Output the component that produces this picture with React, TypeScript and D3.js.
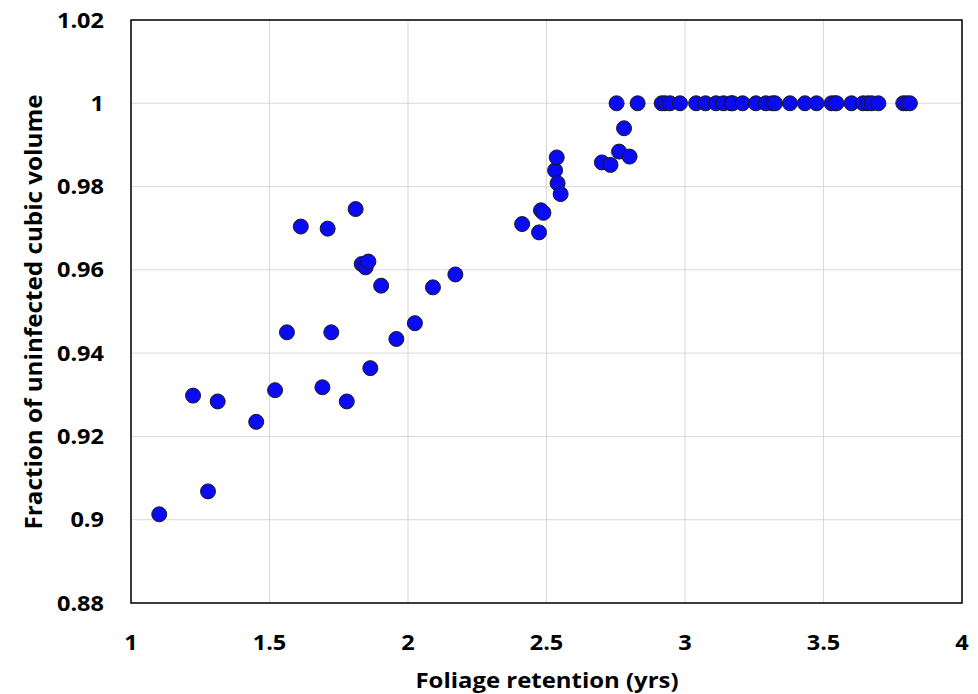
import React from "react";
import * as d3 from "d3";

const xValues: number[] = [
  1.102, 1.224, 1.278, 1.313, 1.452, 1.520, 1.563, 1.613, 1.691, 1.710, 1.723, 1.779,
  1.811, 1.833, 1.847, 1.857, 1.864, 1.903, 1.958, 2.025, 2.090, 2.171,
  2.412, 2.473, 2.480, 2.489, 2.531, 2.537, 2.540, 2.551, 2.700, 2.731, 2.762, 2.780, 2.800,
  2.753, 2.829, 2.916, 2.928, 2.946, 2.982, 3.040, 3.074, 3.112, 3.139, 3.166, 3.172, 3.208,
  3.256, 3.292, 3.316, 3.325, 3.379, 3.433, 3.475, 3.529, 3.541, 3.547, 3.601, 3.643, 3.661,
  3.674, 3.698, 3.788, 3.800, 3.812,
];
const yValues: number[] = [
  0.9013, 0.9298, 0.9068, 0.9284, 0.9235, 0.9311, 0.945, 0.9704, 0.9318, 0.9699, 0.945, 0.9284,
  0.9746, 0.9614, 0.9606, 0.962, 0.9364, 0.9562, 0.9434, 0.9472, 0.9558, 0.9589,
  0.971, 0.969, 0.9743, 0.9737, 0.9839, 0.987, 0.9808, 0.9782, 0.9858, 0.9852, 0.9884, 0.994, 0.9872,
  1, 1, 1, 1, 1, 1, 1, 1, 1, 1, 1, 1, 1,
  1, 1, 1, 1, 1, 1, 1, 1, 1, 1, 1, 1, 1,
  1, 1, 1, 1, 1,
];
const xTicks: number[] = [1, 1.5, 2, 2.5, 3, 3.5, 4];
const yTicks: number[] = [0.88, 0.9, 0.92, 0.94, 0.96, 0.98, 1, 1.02];
const xTitle = "Foliage retention (yrs)";
const yTitle = "Fraction of uninfected cubic volume";

const W = 978;
const H = 694;
const left = 131, right = 962, top = 20, bottom = 603;
const FONT = "'Open Sans', Lato, sans-serif";

export default function App() {
  const x = d3.scaleLinear().domain([1, 4]).range([left, right]);
  const y = d3.scaleLinear().domain([0.88, 1.02]).range([bottom, top]);
  const fmt = (v: number) => String(+v.toFixed(2));
  return (
    <svg width={W} height={H} style={{ position: "absolute", left: 0, top: 0, background: "#fff" }}>
      {xTicks.map((t) => (
        <line key={"gx" + t} x1={x(t)} x2={x(t)} y1={top} y2={bottom} stroke="#d9d9d9" strokeWidth={1} />
      ))}
      {yTicks.map((t) => (
        <line key={"gy" + t} x1={left} x2={right} y1={y(t)} y2={y(t)} stroke="#d9d9d9" strokeWidth={1} />
      ))}
      <rect x={left} y={top} width={right - left} height={bottom - top} fill="none" stroke="#000" strokeWidth={1.5} />
      {xValues.map((v, i) => (
        <circle key={i} cx={x(v)} cy={y(yValues[i])} r={7.5} fill="#0a0af5" stroke="#1a1a1a" strokeWidth={1} />
      ))}
      {xTicks.map((t) => (
        <text key={"tx" + t} transform={`translate(${x(t)}, 650) scale(1.12, 1)`} textAnchor="middle"
          fontFamily={FONT} fontWeight="bold" fontSize={21} fill="#000">
          {fmt(t)}
        </text>
      ))}
      {yTicks.map((t) => (
        <text key={"ty" + t} transform={`translate(104, ${y(t) + 7.5}) scale(1.12, 1)`} textAnchor="end"
          fontFamily={FONT} fontWeight="bold" fontSize={21} fill="#000">
          {fmt(t)}
        </text>
      ))}
      <text x={(left + right) / 2 + 0.5} y={688} textAnchor="middle" fontFamily={FONT} fontWeight="bold" fontSize={22}
        textLength={263} lengthAdjust="spacingAndGlyphs" fill="#000">
        {xTitle}
      </text>
      <text
        transform={`translate(42, 312) rotate(-90)`}
        textAnchor="middle"
        fontFamily={FONT}
        fontWeight="bold"
        fontSize={23}
        textLength={435}
        lengthAdjust="spacingAndGlyphs"
        fill="#000"
      >
        {yTitle}
      </text>
    </svg>
  );
}
